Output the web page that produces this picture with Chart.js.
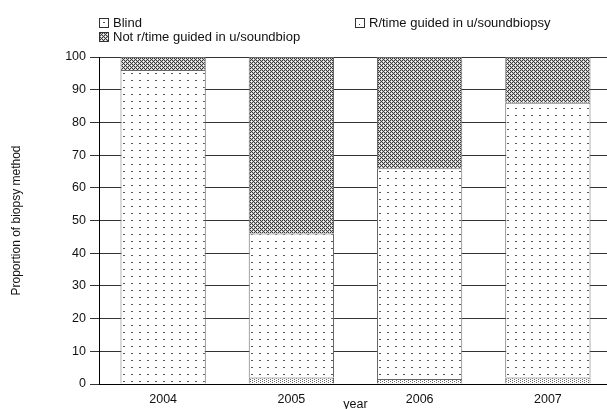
<!DOCTYPE html>
<html>
<head>
<meta charset="utf-8">
<script src="https://cdn.jsdelivr.net/npm/chart.js@4/dist/chart.umd.min.js"></script>
<style>
  html, body { margin: 0; background: #fff; overflow: hidden; font-family: "Liberation Sans", Arial, sans-serif; }
  #wrap { position: relative; width: 607px; height: 409px; overflow: hidden; }
  #chart { position: absolute; left: 0; top: 0; }
  #legend { position: absolute; left: 0; top: 0; width: 607px; height: 50px; font-size: 13px; color: #111; }
  .item { position: absolute; display: flex; align-items: center; white-space: nowrap; line-height: 14px; }
  .item canvas { width: 8px; height: 8px; border: 1px solid #333; margin-right: 4px; }
</style>
</head>
<body>
<div id="wrap">
  <canvas id="chart" width="612" height="409"></canvas>
  <div id="legend">
    <div class="item" style="left:99px; top:16px;"><canvas id="sw0" width="8" height="8"></canvas>Blind</div>
    <div class="item" style="left:99px; top:30px;"><canvas id="sw2" width="8" height="8"></canvas>Not r/time guided in u/soundbiop</div>
    <div class="item" style="left:355px; top:16px;"><canvas id="sw1" width="8" height="8"></canvas>R/time guided in u/soundbiopsy</div>
  </div>
</div>
<script>
// Datos
const years = ["2004", "2005", "2006", "2007"];
const blind = [96, 44, 64.5, 84];
const rtime = [0, 2, 1.5, 2];
const notRtime = [4, 54, 34, 14];
const yTicks = [0, 10, 20, 30, 40, 50, 60, 70, 80, 90, 100];

// Patrones de relleno
function makePattern(draw, w, h) {
  const c = document.createElement("canvas");
  c.width = w; c.height = h;
  const ctx = c.getContext("2d");
  ctx.fillStyle = "#fff";
  ctx.fillRect(0, 0, w, h);
  draw(ctx);
  return document.getElementById("chart").getContext("2d").createPattern(c, "repeat");
}

const dotPattern = makePattern((ctx) => {
  ctx.fillStyle = "#555";
  ctx.fillRect(3, 3, 2, 1);
}, 8, 7);

const densePattern = makePattern((ctx) => {
  ctx.fillStyle = "#c8c8c8";
  ctx.fillRect(0, 0, 4, 4);
  ctx.fillStyle = "#3a3a3a";
  [[0,0],[2,0],[1,1],[0,2],[2,2],[3,3]].forEach(([x,y]) => ctx.fillRect(x, y, 1, 1));
  ctx.fillStyle = "#fff";
  ctx.fillRect(3, 1, 1, 1);
  ctx.fillRect(1, 3, 1, 1);
}, 4, 4);

const lightPattern = makePattern((ctx) => {
  ctx.fillStyle = "#666";
  ctx.fillRect(0, 0, 1, 1);
  ctx.fillRect(2, 1, 1, 1);
}, 4, 2);

// Muestras de la leyenda
function swatch(id, pat) {
  const ctx = document.getElementById(id).getContext("2d");
  ctx.fillStyle = pat;
  ctx.fillRect(0, 0, 8, 8);
}
swatch("sw0", dotPattern);
swatch("sw2", densePattern);
// la muestra de R/time es casi vacia
(() => {
  const ctx = document.getElementById("sw1").getContext("2d");
  ctx.fillStyle = "#fff";
  ctx.fillRect(0, 0, 8, 8);
  ctx.fillStyle = "#444";
  ctx.fillRect(3, 5, 1, 1);
})();

const common = { borderColor: "#666", borderWidth: 1, barPercentage: 0.665, categoryPercentage: 1 };
const font = { family: "Liberation Sans", size: 12.5 };

new Chart(document.getElementById("chart"), {
  type: "bar",
  data: {
    labels: years,
    datasets: [
      { label: "R/time guided in u/soundbiopsy", data: rtime, backgroundColor: lightPattern, ...common },
      { label: "Blind", data: blind, backgroundColor: dotPattern, ...common },
      { label: "Not r/time guided in u/soundbiop", data: notRtime, backgroundColor: densePattern, ...common },
    ],
  },
  options: {
    responsive: false,
    animation: false,
    layout: { padding: { top: 57, right: 0, left: 0, bottom: 0 } },
    plugins: { legend: { display: false }, tooltip: { enabled: false } },
    scales: {
      x: {
        stacked: true,
        afterFit: (axis) => { axis.height = 25; },
        grid: { display: false },
        border: { color: "#000", width: 1 },
        ticks: { color: "#111", font, padding: 0 },
        title: { display: true, text: "year", color: "#111", font, padding: { top: 0, bottom: -3 } },
      },
      y: {
        stacked: true,
        min: 0,
        max: 100,
        afterFit: (axis) => { axis.width = 99; },
        afterBuildTicks: (axis) => { axis.ticks = yTicks.map((v) => ({ value: v })); },
        grid: { color: "#333", lineWidth: 1, tickLength: 9 },
        border: { color: "#000", width: 1 },
        ticks: { color: "#111", font, padding: 4 },
        title: { display: true, text: "Proportion of biopsy method", color: "#111", font: { family: "Liberation Sans", size: 12 }, padding: { top: 9, bottom: 0 } },
      },
    },
  },
});
</script>
</body>
</html>
